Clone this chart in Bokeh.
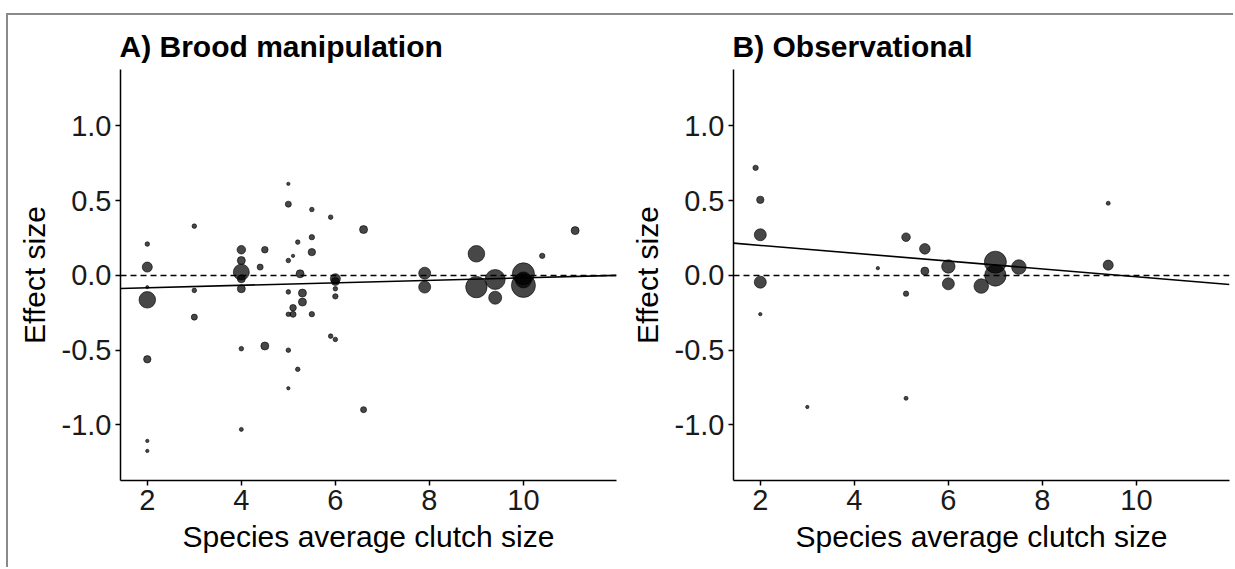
import numpy as np
from bokeh.plotting import figure
from bokeh.layouts import row
from bokeh.models import ColumnDataSource, Span, FixedTicker, Range1d
from bokeh.embed import file_html
from bokeh.resources import INLINE

# ---------------- data ----------------
# Panel A: brood manipulation
a_clutch = [2, 2, 2, 2, 2, 2, 2,
            3, 3, 3,
            4, 4, 4, 4, 4, 4, 4,
            4.5, 4.5, 4.4,
            5, 5, 5, 5, 5, 5, 5,
            5.1, 5.1, 5.1,
            5.2, 5.2,
            5.25, 5.3, 5.3,
            5.5, 5.5, 5.5, 5.5,
            5.9, 5.9,
            6, 6, 6, 6, 6,
            6.6, 6.6,
            7.9, 7.9,
            9, 9,
            9.4, 9.4,
            10, 10, 10,
            10.4, 11.1]
a_effect = [0.21, 0.056, -0.078, -0.163, -0.561, -1.107, -1.174,
            0.33, -0.10, -0.279,
            0.172, 0.10, 0.022, -0.022, -0.089, -0.49, -1.03,
            0.172, -0.472, 0.056,
            0.613, 0.477, 0.10, -0.11, -0.26, -0.50, -0.755,
            0.131, -0.216, -0.26,
            0.223, -0.628,
            0.011, -0.118, -0.178,
            0.441, 0.256, 0.156, -0.259,
            0.39, -0.406,
            -0.022, -0.04, -0.089, -0.14, -0.428,
            0.307, -0.898,
            0.015, -0.078,
            0.145, -0.078,
            -0.027, -0.149,
            0.011, -0.067, -0.03,
            0.131, 0.30]
a_weight = [1.3, 6.3, 0.6, 17.2, 3.4, 0.7, 0.7,
            1.3, 1.3, 2.3,
            4.6, 4.0, 16.0, 4.0, 4.0, 1.3, 1.0,
            2.7, 4.0, 2.3,
            0.7, 2.3, 1.3, 1.3, 1.3, 1.3, 0.7,
            0.7, 2.7, 2.3,
            1.3, 1.3,
            4.0, 4.0, 4.0,
            1.3, 1.8, 3.4, 1.8,
            1.3, 1.3,
            6.3, 4.0, 1.3, 1.8, 1.3,
            4.0, 2.3,
            9.0, 9.0,
            17.2, 28.6,
            25.0, 10.6,
            30.3, 36.0, 16.0,
            1.8, 4.0]
a_intercept, a_slope = -0.099, 0.0083

# Panel B: observational
b_clutch = [1.9, 2, 2, 2, 2,
            3, 4.5,
            5.1, 5.1, 5.1,
            5.5, 5.5,
            6, 6,
            7, 7, 6.7, 7.5,
            9.4, 9.4]
b_effect = [0.72, 0.506, 0.272, -0.045, -0.259,
            -0.88, 0.049,
            0.256, -0.122, -0.822,
            0.178, 0.029,
            0.06, -0.056,
            0.089, 0.0, -0.071, 0.056,
            0.483, 0.069]
b_weight = [1.8, 3.4, 9.0, 9.0, 0.7,
            0.7, 0.7,
            4.6, 1.8, 1.0,
            7.0, 4.0,
            11.2, 9.0,
            30.3, 28.6, 13.3, 13.3,
            1.0, 6.3]
b_intercept, b_slope = 0.2535, -0.0262

titles = ["A) Brood manipulation", "B) Observational"]
x_ticks = [2, 4, 6, 8, 10]
y_ticks = [-1.0, -0.5, 0.0, 0.5, 1.0]

X_RANGE = (1.43, 11.98)
Y_RANGE = (-1.372, 1.378)

FONT = "Liberation Sans"


def make_panel(title, xs, ys, ws, intercept, slope, width, left):
    p = figure(width=width, height=552, output_backend="svg", toolbar_location=None,
               x_range=Range1d(*X_RANGE), y_range=Range1d(*Y_RANGE),
               min_border_left=left, min_border_right=width - left - 496,
               min_border_top=54, min_border_bottom=87)
    p.outline_line_color = None
    p.grid.visible = False
    p.background_fill_color = "white"
    p.border_fill_color = "white"

    p.title.text = title
    p.title.text_font = FONT
    p.title.text_font_size = "30px"
    p.title.text_font_style = "bold"
    p.title.text_color = "black"
    p.title.align = "left"
    p.title.offset = -1
    p.title.standoff = 13

    for ax in (p.xaxis[0], p.yaxis[0]):
        ax.axis_line_color = "black"
        ax.axis_line_width = 1.5
        ax.major_tick_line_color = "black"
        ax.major_tick_line_width = 1.5
        ax.major_tick_out = 5
        ax.major_tick_in = 0
        ax.minor_tick_line_color = None
        ax.major_label_text_font = FONT
        ax.major_label_text_font_size = "29px"
        ax.major_label_text_color = "#1a1a1a"
        ax.axis_label_text_font = FONT
        ax.axis_label_text_font_size = "30px"
        ax.axis_label_text_font_style = "normal"
        ax.axis_label_text_color = "black"

    p.xaxis.ticker = FixedTicker(ticks=x_ticks)
    p.yaxis.ticker = FixedTicker(ticks=y_ticks)
    p.yaxis.major_label_overrides = {t: f"{t:.1f}" for t in y_ticks}
    p.xaxis.axis_label = "Species average clutch size"
    p.yaxis.axis_label = "Effect size"
    p.xaxis.major_label_standoff = 4
    p.xaxis.axis_label_standoff = 7
    p.yaxis.major_label_standoff = 4
    p.yaxis.axis_label_standoff = 8

    # zero reference line
    p.add_layout(Span(location=0, dimension="width", line_color="black",
                      line_width=1.5, line_dash="6 4"))

    # regression line
    lx = np.array(X_RANGE)
    p.line(lx, intercept + slope * lx, line_color="black", line_width=1.6)

    src = ColumnDataSource(dict(x=xs, y=ys, s=[4.0 * np.sqrt(w) for w in ws]))
    p.scatter("x", "y", size="s", source=src, fill_color="black", fill_alpha=0.72,
              line_color="black", line_alpha=0.75, line_width=0.8)
    return p


pA = make_panel(titles[0], a_clutch, a_effect, a_weight, a_intercept, a_slope, 610, 112)
pB = make_panel(titles[1], b_clutch, b_effect, b_weight, b_intercept, b_slope, 615, 115)

layout = row(pA, pB, styles={"border-top": "2px solid #8a8a8a",
                             "border-left": "2px solid #8a8a8a",
                             "margin-top": "13px",
                             "margin-left": "6px"})

open("out.html", "w").write(file_html(layout, INLINE))
